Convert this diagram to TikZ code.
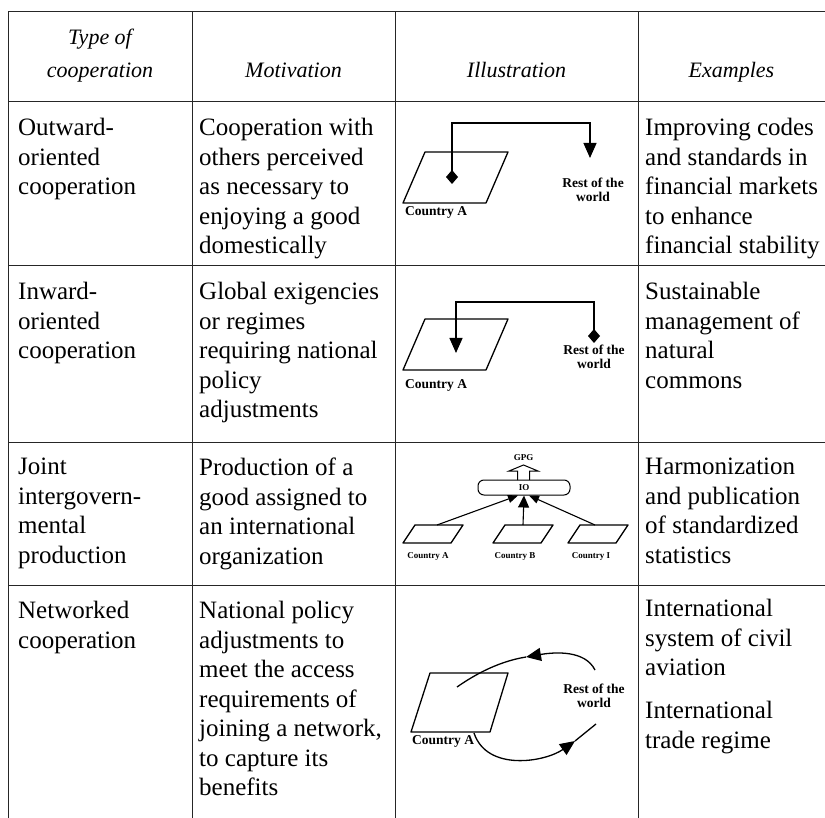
\documentclass[tikz,border=0pt]{standalone}
\usepackage{fontspec}
\setmainfont{Liberation Serif}
\usetikzlibrary{arrows.meta}

\tikzset{
  rule/.style={line width=1pt, black!85},
  head/.style={anchor=north, align=center, inner sep=0pt, font=\fontsize{22}{33}\selectfont\itshape},
  cell/.style={anchor=north west, align=left, inner sep=0pt, font=\fontsize{25}{29.5}\selectfont},
  lbl/.style={inner sep=0pt, align=center, font=\fontsize{13.5}{14}\selectfont\bfseries},
  tiny/.style={inner sep=0pt, font=\fontsize{9}{9}\selectfont\bfseries},
  land/.style={line width=1.3pt, line join=round},
  link/.style={line width=1.3pt},
  tip/.style={-{Triangle[length=15pt,width=13pt]}},
  both/.style={{Diamond[length=14pt,width=12pt]}-{Triangle[length=15pt,width=13pt]}}
}

\begin{document}
\begin{tikzpicture}[x=1pt, y=-1pt]
\useasboundingbox (0,0) rectangle (825,818);

% table rules
\foreach \x in {8,192,395,638}
  \draw[rule] (\x,12) -- (\x,818);
\foreach \y in {12,102,266,442,585}
  \draw[rule] (8,\y) -- (825,\y);

% header
\node[head] (h1) at (100,29) {Type of\\cooperation};
\node[head, anchor=base] (h2) at (293.5,78) {Motivation};
\node[head, anchor=base] (h3) at (516.5,78) {Illustration};
\node[head, anchor=base] (h4) at (731.5,78) {Examples};

% row 1
\node[cell] (a1) at (18,118) {Outward-\\oriented\\cooperation};
\node[cell] (a2) at (199,118) {Cooperation with\\others perceived\\as necessary to\\enjoying a good\\domestically};
\node[cell] (a4) at (645,118) {Improving codes\\and standards in\\financial markets\\to enhance\\financial stability};

% row 2
\node[cell] (b1) at (18,282) {Inward-\\oriented\\cooperation};
\node[cell] (b2) at (199,282) {Global exigencies\\or regimes\\requiring national\\policy\\adjustments};
\node[cell] (b4) at (645,282) {Sustainable\\management of\\natural\\commons};

% row 3
\node[cell] (c1) at (18,458) {Joint\\intergovern-\\mental\\production};
\node[cell] (c2) at (199,458) {Production of a\\good assigned to\\an international\\organization};
\node[cell] (c4) at (645,458) {Harmonization\\and publication\\of standardized\\statistics};

% row 4
\node[cell] (d1) at (18,601) {Networked\\cooperation};
\node[cell] (d2) at (199,601) {National policy\\adjustments to\\meet the access\\requirements of\\joining a network,\\to capture its\\benefits};
\node[cell] (d4) at (645,599) {International\\system of civil\\aviation};
\node[cell] (d5) at (645,701) {International\\trade regime};

% illustration 1
\draw[land] (425,152) -- (508,152) -- (486,203) -- (403,203) -- cycle;
\node[lbl, anchor=west] (ca1) at (405,212) {Country A};
\node[lbl] (rw1) at (593,190) {Rest of the\\world};
\coordinate (s1) at (452,184);
\coordinate (k1) at (590,123);
\coordinate (e1) at (590,158);
\draw[link, both] (s1) |- (k1) -- (e1);

% illustration 2
\draw[land] (425,319) -- (508,319) -- (486,370) -- (403,370) -- cycle;
\node[lbl, anchor=west] (ca2) at (405,385) {Country A};
\node[lbl] (rw2) at (594,357) {Rest of the\\world};
\coordinate (s2) at (594,343);
\coordinate (k2) at (456,302);
\coordinate (e2) at (456,353);
\draw[link, both] (s2) |- (k2) -- (e2);

% illustration 3
\node[tiny] (gpg) at (523.5,458) {GPG};
\draw[line width=1pt, fill=white] (517.5,480) -- (517.5,471) -- (509,471) -- (523.5,465)
  -- (538,471) -- (529.5,471) -- (529.5,480);
\node[draw, line width=1pt, rounded corners=6pt, minimum width=92pt, minimum height=15pt,
  inner sep=0pt, font=\fontsize{9}{9}\selectfont\bfseries] (io) at (524,487.5) {IO};
\draw[land] (415,525) -- (463,525) -- (451,543) -- (403,543) -- cycle;
\draw[land] (505,525) -- (553,525) -- (541,543) -- (493,543) -- cycle;
\draw[land] (580,525) -- (628,525) -- (616,543) -- (568,543) -- cycle;
\node[tiny] (cA) at (428,556) {Country A};
\node[tiny] (cB) at (515,556) {Country B};
\node[tiny] (cI) at (591,556) {Country I};
\coordinate (p1) at (437,525);
\coordinate (p2) at (523,525);
\coordinate (p3) at (595,525);
\draw[line width=1.1pt, -{Triangle[length=10pt,width=8pt]}] (p1) -- (io.south -| 518,0);
\draw[line width=1.1pt, -{Triangle[length=12pt,width=11pt]}] (p2) -- (io.south);
\draw[line width=1.1pt, -{Triangle[length=10pt,width=8pt]}] (p3) -- (io.south -| 529,0);

% illustration 4
\draw[land] (430,673) -- (508,673) -- (490,732) -- (411,732) -- cycle;
\node[lbl, anchor=west] (ca4) at (412,741) {Country A};
\node[lbl] (rw4) at (594,696) {Rest of the\\world};
\coordinate (u1) at (595,670);
\coordinate (u2) at (526,657);
\coordinate (u3) at (457,687);
\draw[link, tip] (u1) .. controls (585,650) and (555,652) .. (u2);
\draw[link] (u2) .. controls (495,662) and (470,678) .. (u3);
\coordinate (w1) at (474,733);
\coordinate (w2) at (575,741);
\coordinate (w3) at (596,724);
\draw[link, tip] (w1) .. controls (487,772) and (545,762) .. (w2);
\draw[link] (w2) -- (w3);

\end{tikzpicture}
\end{document}
